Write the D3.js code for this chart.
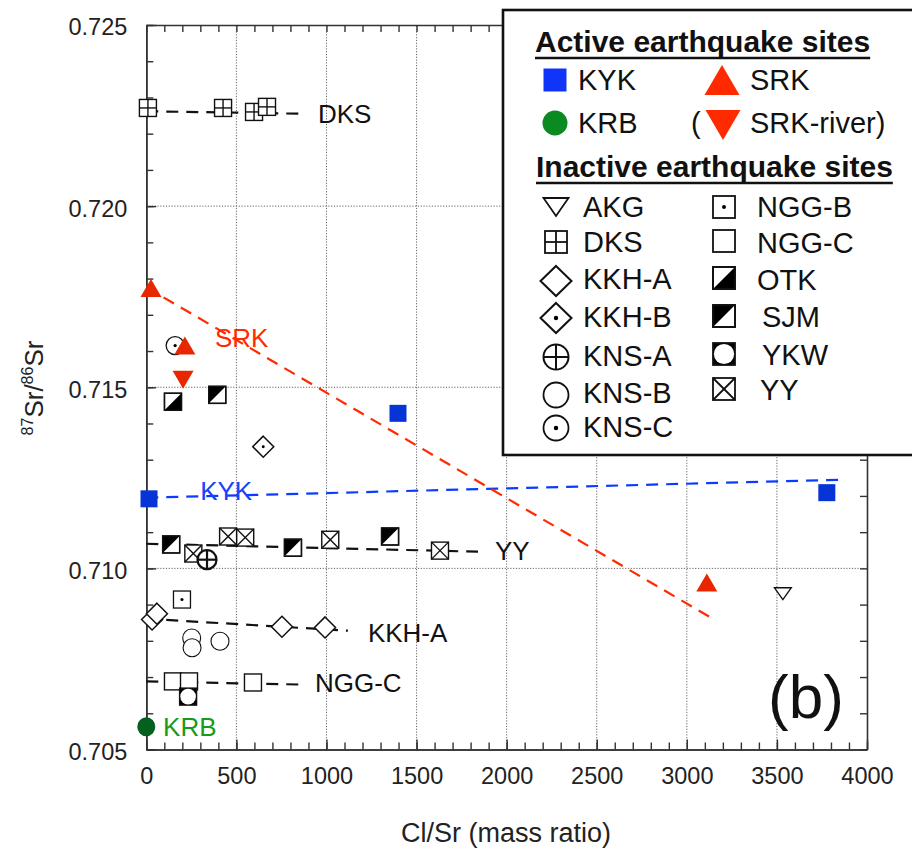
<!DOCTYPE html>
<html><head><meta charset="utf-8">
<script src="https://cdn.jsdelivr.net/npm/d3@7"></script>
<style>body{margin:0;background:#fff;} svg{display:block;}</style>
</head><body>
<script>
// ---------- data ----------
const xTicks = [0, 500, 1000, 1500, 2000, 2500, 3000, 3500, 4000];
const yTicks = [0.705, 0.710, 0.715, 0.720, 0.725];
const xGrid = [500, 1000, 1500, 2000, 2500, 3000, 3500];
const yGrid = [0.710, 0.715, 0.720];

const KYK = [[15, 0.71192], [1397, 0.71428], [3777, 0.71209]];
const KRB = [[0, 0.70563]];
const SRK = [[26, 0.71774], [214, 0.71615], [3111, 0.70961]];
const SRK_river = [[204, 0.71521]];
const AKG = [[3533, 0.70930]];
const DKS = [[9, 0.72271], [426, 0.72271], [598, 0.72260], [670, 0.72274]];
const KKH_A = [[32, 0.70859], [59, 0.70875], [753, 0.70839], [992, 0.70837]];
const KKH_B = [[649, 0.71336]];
const KNS_A = [[337, 0.71024]];
const KNS_B = [[252, 0.70808], [254, 0.70781], [409, 0.70799]];
const KNS_C = [[160, 0.71615]];
const NGG_B = [[198, 0.70914]];
const NGG_C = [[148, 0.70688], [237, 0.70688], [592, 0.70685]];
const OTK = [[148, 0.71460]];
const SJM = [[394, 0.71479], [138, 0.71066], [814, 0.71057], [1353, 0.71088]];
const YKW = [[232, 0.70646]];
const YY = [[261, 0.71041], [454, 0.71088], [549, 0.71085], [1021, 0.71079], [1630, 0.71049]];

const fitDKS = [[0, 0.72262], [860, 0.72255]];
const fitSRK = [[0, 0.71776], [3123, 0.70867]];
const fitKYK = [[0, 0.71195], [3877, 0.71245]];
const fitYY = [[0, 0.71068], [1841, 0.71046]];
const fitKKHA = [[0, 0.70861], [1119, 0.70828]];
const fitNGGC = [[0, 0.70688], [880, 0.70679]];

const activeNames = ["KYK", "SRK", "KRB", "SRK-river"];
const inactiveCol1 = ["AKG", "DKS", "KKH-A", "KKH-B", "KNS-A", "KNS-B", "KNS-C"];
const inactiveCol2 = ["NGG-B", "NGG-C", "OTK", "SJM", "YKW", "YY"];

// ---------- setup ----------
const FONT = "'Liberation Sans', Arial, Helvetica, sans-serif";
const BLUE = "#0634d6";
const svg = d3.select("body").append("svg").attr("width", 912).attr("height", 860)
  .style("font-family", FONT);

const x = d3.scaleLinear().domain([0, 4000]).range([146.3, 867]);
const y = d3.scaleLinear().domain([0.705, 0.725]).range([749.5, 25]);

// grid
const grid = svg.append("g").attr("stroke", "#666").attr("stroke-width", 1).attr("stroke-dasharray", "1.2,1.6");
grid.selectAll("line.gx").data(xGrid).join("line").attr("class", "gx")
  .attr("x1", d => x(d)).attr("x2", d => x(d)).attr("y1", y(0.705)).attr("y2", y(0.725));
grid.selectAll("line.gy").data(yGrid).join("line").attr("class", "gy")
  .attr("y1", d => y(d)).attr("y2", d => y(d)).attr("x1", x(0)).attr("x2", x(4000));

// axes
function styleAxis(g, fs) {
  g.selectAll("path.domain").attr("stroke", "#333").attr("stroke-width", 1.6);
  g.selectAll(".tick line").attr("stroke", "#333").attr("stroke-width", 1.4);
  g.selectAll("text").attr("fill", "#222").style("font-size", fs + "px").style("font-family", FONT);
  g.attr("font-family", null).attr("font-size", null);
}
const xMinor = d3.range(0, 4001, 100);
const yMinor = d3.range(0, 21).map(i => 0.705 + i * 0.001);

const gxb = svg.append("g").attr("transform", `translate(0,${y(0.705)})`)
  .call(d3.axisBottom(x).tickValues(xTicks).tickSize(-10).tickSizeOuter(0).tickPadding(18).tickFormat(d => d));
styleAxis(gxb, 23.5);
const gxbm = svg.append("g").attr("transform", `translate(0,${y(0.705)})`)
  .call(d3.axisBottom(x).tickValues(xMinor).tickSize(-7).tickSizeOuter(0).tickFormat(""));
styleAxis(gxbm, 10);
const gxt = svg.append("g").attr("transform", `translate(0,${y(0.725)})`)
  .call(d3.axisTop(x).tickValues(xMinor).tickSize(-7).tickSizeOuter(0).tickFormat(""));
styleAxis(gxt, 10);

const gyl = svg.append("g").attr("transform", `translate(${x(0)},0)`)
  .call(d3.axisLeft(y).tickValues(yTicks).tickSize(-10).tickSizeOuter(0).tickPadding(19).tickFormat(d3.format(".3f")));
styleAxis(gyl, 23.5);
gyl.selectAll("text").attr("dy", "0.42em");
const gylm = svg.append("g").attr("transform", `translate(${x(0)},0)`)
  .call(d3.axisLeft(y).tickValues(yMinor).tickSize(-7).tickSizeOuter(0).tickFormat(""));
styleAxis(gylm, 10);
const gyr = svg.append("g").attr("transform", `translate(${x(4000)},0)`)
  .call(d3.axisRight(y).tickValues(yMinor).tickSize(-7).tickSizeOuter(0).tickFormat(""));
styleAxis(gyr, 10);

// axis titles
svg.append("text").attr("x", 506).attr("y", 842).attr("text-anchor", "middle")
  .attr("fill", "#222").style("font-size", "27px").text("Cl/Sr (mass ratio)");
const yt = svg.append("text").attr("transform", "translate(43,388) rotate(-90)")
  .attr("text-anchor", "middle").attr("fill", "#222").style("font-size", "26px");
yt.append("tspan").style("font-size", "16px").attr("dy", "-10").text("87");
yt.append("tspan").attr("dy", "10").text("Sr/");
yt.append("tspan").style("font-size", "16px").attr("dy", "-10").text("86");
yt.append("tspan").attr("dy", "10").text("Sr");

// ---------- symbols ----------
function sym(g, type, w, h, color, sw) {
  const a = w / 2, b = h / 2;
  const stroke = "#111";
  const rect = (fill) => g.append("rect").attr("x", -a).attr("y", -b).attr("width", w).attr("height", h)
    .attr("fill", fill).attr("stroke", stroke).attr("stroke-width", sw);
  const line = (x1, y1, x2, y2) => g.append("line").attr("x1", x1).attr("y1", y1).attr("x2", x2).attr("y2", y2)
    .attr("stroke", stroke).attr("stroke-width", sw);
  const dot = (r) => g.append("circle").attr("r", r).attr("fill", "#000");
  const circ = () => g.append("circle").attr("r", a).attr("fill", "#fff").attr("stroke", stroke).attr("stroke-width", sw);
  const poly = (pts, fill, st) => g.append("path").attr("d", "M" + pts.map(p => p.join(",")).join("L") + "Z")
    .attr("fill", fill).attr("stroke", st || "none").attr("stroke-width", sw).attr("stroke-linejoin", "miter");
  switch (type) {
    case "sqFill": g.append("rect").attr("x", -a).attr("y", -b).attr("width", w).attr("height", h).attr("fill", color); break;
    case "circFill": g.append("ellipse").attr("rx", a).attr("ry", b).attr("fill", color); break;
    case "triUp": poly([[0, -b], [a, b], [-a, b]], color); break;
    case "triDown": poly([[-a, -b], [a, -b], [0, b]], color); break;
    case "triDownOpen": poly([[-a, -b], [a, -b], [0, b]], "#fff", stroke); break;
    case "sq": rect("#fff"); break;
    case "sqPlus": rect("#fff"); line(0, -b, 0, b); line(-a, 0, a, 0); break;
    case "sqX": rect("#fff"); line(-a, -b, a, b); line(-a, b, a, -b); break;
    case "sqDot": rect("#fff"); dot(w * 0.09); break;
    case "sqHalfBR": rect("#fff"); poly([[a, -b], [a, b], [-a, b]], "#000"); rect("none"); break;
    case "sqHalfTL": rect("#fff"); poly([[-a, -b], [a, -b], [-a, b]], "#000"); rect("none"); break;
    case "sqCircle": rect("#000"); g.append("circle").attr("r", a * 0.92).attr("fill", "#fff"); break;
    case "circ": circ(); break;
    case "circDot": circ(); dot(w * 0.09); break;
    case "circPlus": circ(); line(0, -a, 0, a); line(-a, 0, a, 0); break;
    case "diamond": poly([[0, -b], [a, 0], [0, b], [-a, 0]], "#fff", stroke); break;
    case "diamondDot": poly([[0, -b], [a, 0], [0, b], [-a, 0]], "#fff", stroke); dot(w * 0.07); break;
  }
}

// ---------- fit lines ----------
const lineGen = d3.line().x(d => x(d[0])).y(d => y(d[1]));
const fits = [
  [fitDKS, "#111"], [fitYY, "#111"], [fitKKHA, "#111"], [fitNGGC, "#111"],
  [fitKYK, "#0a3cff"], [fitSRK, "#ff2a00"]
];
svg.append("g").selectAll("path").data(fits).join("path")
  .attr("d", d => lineGen(d[0])).attr("fill", "none").attr("stroke", d => d[1])
  .attr("stroke-width", 2.2).attr("stroke-dasharray", "12,8");

// ---------- markers ----------
const series = [
  [DKS, "sqPlus", 17, 17, null, 1.4],
  [NGG_C, "sq", 17, 17, null, 1.4],
  [YKW, "sqCircle", 17, 17, null, 1.4],
  [KNS_B, "circ", 18, 18, null, 1.1],
  [KKH_A, "diamond", 21, 21, null, 1.5],
  [KKH_B, "diamondDot", 21, 21, null, 1.5],
  [NGG_B, "sqDot", 17, 17, null, 1.3],
  [YY, "sqX", 17, 17, null, 1.4],
  [SJM, "sqHalfTL", 17, 17, null, 1.4],
  [OTK, "sqHalfBR", 17, 17, null, 1.4],
  [KNS_A, "circPlus", 19, 19, null, 2.2],
  [KNS_C, "circDot", 18, 18, null, 1.3],
  [AKG, "triDownOpen", 17, 12, null, 1.3],
  [KYK, "sqFill", 17, 17, BLUE, 0],
  [SRK, "triUp", 21, 18, "#e82600", 0],
  [SRK_river, "triDown", 21, 18, "#e82600", 0],
  [KRB, "circFill", 18, 19, "#04601e", 0]
];
const mk = svg.append("g");
series.forEach(([data, type, w, h, color, sw]) => {
  data.forEach(d => {
    const g = mk.append("g").attr("transform", `translate(${x(d[0])},${y(d[1])})`);
    sym(g, type, w, h, color, sw);
  });
});

// ---------- in-plot labels ----------
const labels = [
  ["DKS", 953, 0.72230, "#111"],
  ["SRK", 381, 0.71612, "#ff2a00"],
  ["KYK", 299, 0.71190, "#1a40ff"],
  ["YY", 1935, 0.71024, "#111"],
  ["KKH-A", 1230, 0.70798, "#111"],
  ["NGG-C", 936, 0.70660, "#111"],
  ["KRB", 93, 0.70536, "#1a9a1a"]
];
svg.append("g").selectAll("text").data(labels).join("text")
  .attr("x", d => x(d[1])).attr("y", d => y(d[2])).attr("fill", d => d[3])
  .style("font-size", "26px").text(d => d[0]);

svg.append("text").attr("x", 768).attr("y", 718).attr("fill", "#111")
  .style("font-size", "62px").text("(b)");

// ---------- legend ----------
const lg = svg.append("g");
lg.append("rect").attr("x", 503).attr("y", 10).attr("width", 430).attr("height", 445)
  .attr("fill", "#fff").attr("stroke", "#111").attr("stroke-width", 2.6);

function heading(txt, tx, ty) {
  const t = lg.append("text").attr("x", tx).attr("y", ty).attr("fill", "#111")
    .style("font-size", "30px").style("font-weight", "bold").text(txt);
  const L = t.node().getComputedTextLength();
  lg.append("line").attr("x1", tx).attr("x2", tx + L).attr("y1", ty + 6).attr("y2", ty + 6)
    .attr("stroke", "#111").attr("stroke-width", 2.4);
}
heading("Active earthquake sites", 535, 52);
heading("Inactive earthquake sites", 536, 177);

function legItem(type, w, h, color, sw, cx, cy, label, tx, ty) {
  const g = lg.append("g").attr("transform", `translate(${cx},${cy})`);
  sym(g, type, w, h, color, sw);
  lg.append("text").attr("x", tx).attr("y", ty).attr("fill", "#111").style("font-size", "29px").text(label);
}
legItem("sqFill", 23, 23, "#1034f8", 0, 555, 80, activeNames[0], 578, 90);
legItem("triUp", 35, 30, "#ff2a00", 0, 722, 80, activeNames[1], 750, 90);
legItem("circFill", 25, 25, "#0c8a22", 0, 555, 123, activeNames[2], 578, 133);
legItem("triDown", 35, 30, "#ff2a00", 0, 723, 125, activeNames[3] + ")", 750, 133);
lg.append("text").attr("x", 691).attr("y", 133).attr("fill", "#111").style("font-size", "29px").text("(");

const col1 = [
  ["triDownOpen", 25, 18, 1.8, 207, 217],
  ["sqPlus", 22, 22, 1.8, 242, 252],
  ["diamond", 31, 30, 2, 281, 289],
  ["diamondDot", 31, 30, 2, 318, 327],
  ["circPlus", 25, 25, 2, 357, 366],
  ["circ", 25, 25, 1.8, 395, 403],
  ["circDot", 25, 25, 1.8, 428, 437]
];
col1.forEach((c, i) => legItem(c[0], c[1], c[2], null, c[3], 556, c[4], inactiveCol1[i], 583, c[5]));
const col2 = [
  ["sqDot", 207, 217, 757],
  ["sq", 241, 253, 757],
  ["sqHalfBR", 278, 290, 757],
  ["sqHalfTL", 316, 327, 762],
  ["sqCircle", 354, 365, 762],
  ["sqX", 389, 400, 760]
];
col2.forEach((c, i) => legItem(c[0], 22, 22, null, 1.8, 724, c[1], inactiveCol2[i], c[3], c[2]));
</script>
</body></html>
